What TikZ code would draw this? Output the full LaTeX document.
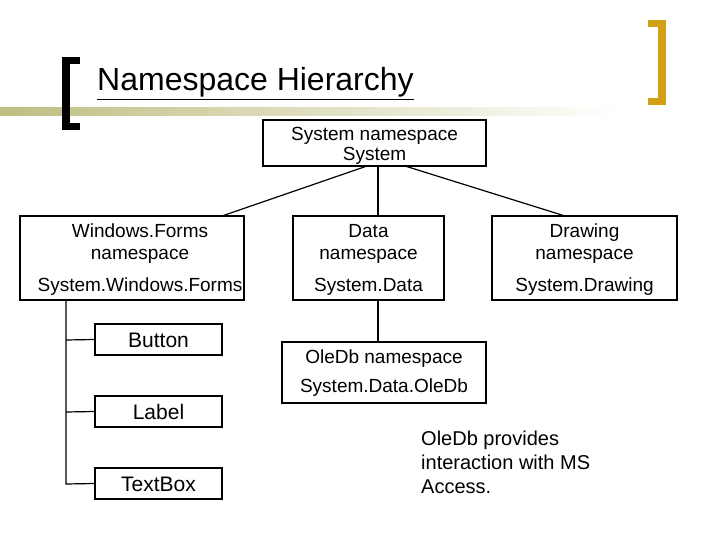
\documentclass[tikz,border=0pt]{standalone}
\usepackage{fontspec}
\setmainfont{Liberation Sans}
\begin{document}
\begin{tikzpicture}[x=1pt,y=-1pt,
  bx/.style={draw,line width=1.2pt,inner sep=0pt},
  tx/.style={anchor=base,inner sep=0pt,font=\fontsize{19}{22}\selectfont},
  ln/.style={line width=1.2pt}]
\useasboundingbox (0,0) rectangle (720,540);
\definecolor{gold}{RGB}{210,160,20}
\definecolor{olive}{RGB}{190,190,130}
\shade[left color=olive,right color=white] (0,108) rectangle (620,116);
\fill (62,57) rectangle (70,130);
\fill (62,57) rectangle (80,64);
\fill (62,123) rectangle (80,130);
\fill[gold] (658,20) rectangle (666,105);
\fill[gold] (648,20) rectangle (666,27);
\fill[gold] (648,98) rectangle (666,105);
\node[anchor=base west,font=\fontsize{32}{36}\selectfont,inner sep=0pt] (title) at (97,91) {\underline{Namespace Hierarchy}};
\node[bx,minimum width=223pt,minimum height=46pt] (sys) at (374.5,143) {};
\node[tx] (s1) at (374.5,141) {System namespace};
\node[tx] (s2) at (374.5,161) {System};
\node[bx,minimum width=224pt,minimum height=84pt] (wf) at (132,258) {};
\node[tx] (w1) at (140,237) {Windows.Forms};
\node[tx] (w2) at (140,259) {namespace};
\node[tx] (w3) at (140,291) {System.Windows.Forms};
\node[bx,minimum width=151pt,minimum height=84pt] (data) at (368.5,258) {};
\node[tx] (d1) at (368.5,237) {Data};
\node[tx] (d2) at (368.5,259) {namespace};
\node[tx] (d3) at (368.5,291) {System.Data};
\node[bx,minimum width=185pt,minimum height=84pt] (draw) at (584.5,258) {};
\node[tx] (r1) at (584.5,237) {Drawing};
\node[tx] (r2) at (584.5,259) {namespace};
\node[tx] (r3) at (584.5,291) {System.Drawing};
\node[bx,minimum width=127pt,minimum height=31pt] (btn) at (158.5,339.5) {};
\node[tx,font=\fontsize{21}{22}\selectfont] at (158.5,347) {Button};
\node[bx,minimum width=127pt,minimum height=31pt] (lbl) at (158.5,411.5) {};
\node[tx,font=\fontsize{21}{22}\selectfont] at (158.5,419) {Label};
\node[bx,minimum width=127pt,minimum height=31pt] (tb) at (158.5,483.5) {};
\node[tx,font=\fontsize{21}{22}\selectfont] at (158.5,491) {TextBox};
\node[bx,minimum width=204pt,minimum height=61pt] (ole) at (384,372.5) {};
\node[tx] at (384,363) {OleDb namespace};
\node[tx] at (384,392) {System.Data.OleDb};
\node[anchor=north west,align=left,inner sep=0pt,font=\fontsize{20}{24}\selectfont] (note) at (421,431) {OleDb provides\\interaction with MS\\Access.};
\draw[ln] (367,166) -- (222,216);
\draw[ln] (378,166) -- (378,216);
\draw[ln] (405,166) -- (565,216);
\draw[ln] (378,300) -- (378,342);
\draw[ln] (66,300) -- (66,484) -- (tb.west);
\draw[ln] (66,340) -- (btn.west);
\draw[ln] (66,412) -- (lbl.west);
\end{tikzpicture}
\end{document}
